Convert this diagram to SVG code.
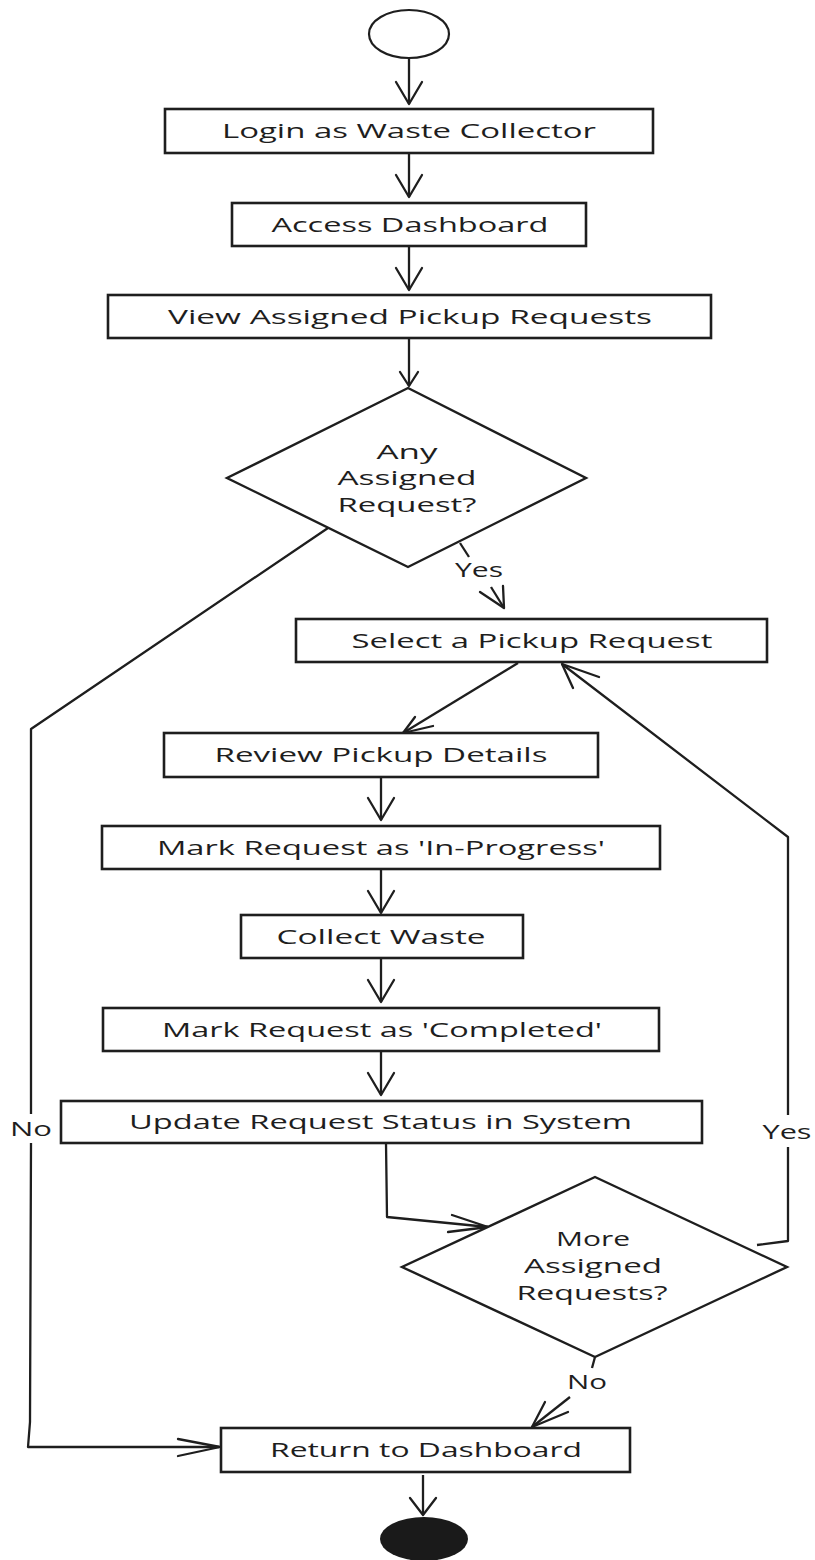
<svg xmlns="http://www.w3.org/2000/svg" width="815" height="1560" viewBox="0 0 815 1560">
  <style>
    .box { fill: #ffffff; stroke: #1e1e1e; stroke-width: 2.6; }
    .dia { fill: #ffffff; stroke: #1e1e1e; stroke-width: 2.4; stroke-linejoin: miter; }
    .line { fill: none; stroke: #1e1e1e; stroke-width: 2.3; stroke-linejoin: round; }
    .head { fill: none; stroke: #1e1e1e; stroke-width: 2.3; stroke-linecap: round; stroke-linejoin: round; }
    text { font-family: "Open Sans", "Liberation Sans", sans-serif; font-size: 19.5px; fill: #1e1e1e; text-anchor: middle; }
  </style>
  <rect x="0" y="0" width="815" height="1560" fill="#ffffff"/>

  <!-- connectors -->
  <g id="connectors">
    <!-- start to login -->
    <path class="line" d="M409 58 V104"/>
    <path class="head" d="M396 82 L409 104 L422 82"/>
    <!-- login to dashboard -->
    <path class="line" d="M409 153 V197"/>
    <path class="head" d="M396 175 L409 197 L422 175"/>
    <!-- dashboard to view -->
    <path class="line" d="M409 246 V290"/>
    <path class="head" d="M396 268 L409 290 L422 268"/>
    <!-- view to decision -->
    <path class="line" d="M409 338 V386"/>
    <path class="head" d="M400 372 L409 386 L418 372"/>
    <!-- decision yes -->
    <path class="line" d="M460 543 L469 557"/>
    <path class="line" d="M491 587 L504 608"/>
    <path class="head" d="M480 592 L504 608 L503 586"/>
    <!-- decision no: down the left side -->
    <path class="line" d="M328 528 L31 729 L31 1114"/>
    <path class="line" d="M31 1143 L30 1422 L28 1447 L219 1447"/>
    <path class="head" d="M178 1439 L220 1447 L178 1456"/>
    <!-- select to review -->
    <path class="line" d="M518 663 L403 733"/>
    <path class="head" d="M433 726 L403 733 L415 717"/>
    <!-- review to in-progress -->
    <path class="line" d="M381 777 V820"/>
    <path class="head" d="M368 798 L381 820 L394 798"/>
    <!-- in-progress to collect -->
    <path class="line" d="M381 869 V913"/>
    <path class="head" d="M368 891 L381 913 L394 891"/>
    <!-- collect to completed -->
    <path class="line" d="M381 958 V1002"/>
    <path class="head" d="M368 980 L381 1002 L394 980"/>
    <!-- completed to update -->
    <path class="line" d="M381 1051 V1095"/>
    <path class="head" d="M368 1073 L381 1095 L394 1073"/>
    <!-- update to second decision -->
    <path class="line" d="M386 1143 L387 1217 L488 1227"/>
    <path class="head" d="M452 1215 L488 1227 L448 1232"/>
    <!-- second decision yes: loop back to select -->
    <path class="line" d="M757 1245 L788 1241 L788 1147"/>
    <path class="line" d="M788 1115 L788 837 L562 664"/>
    <path class="head" d="M573 688 L562 664 L599 677"/>
    <!-- second decision no -->
    <path class="line" d="M595 1357 L592 1368"/>
    <path class="line" d="M570 1397 L532 1427"/>
    <path class="head" d="M545 1402 L532 1427 L568 1412"/>
    <!-- return to end -->
    <path class="line" d="M423 1475 V1515"/>
    <path class="head" d="M410 1498 L423 1515 L436 1498"/>

    <!-- branch labels -->
    <text x="479" y="577" textLength="48" lengthAdjust="spacingAndGlyphs">Yes</text>
    <text x="31" y="1136" textLength="42" lengthAdjust="spacingAndGlyphs">No</text>
    <text x="787" y="1139" textLength="49" lengthAdjust="spacingAndGlyphs">Yes</text>
    <text x="587" y="1389" textLength="40" lengthAdjust="spacingAndGlyphs">No</text>
  </g>

  <!-- nodes -->
  <g id="start">
    <ellipse cx="409" cy="34" rx="40" ry="24" fill="#ffffff" stroke="#1e1e1e" stroke-width="2.2"/>
  </g>

  <g id="login">
    <rect class="box" x="165" y="109" width="488" height="44"/>
    <text x="409" y="138" textLength="374" lengthAdjust="spacingAndGlyphs">Login as Waste Collector</text>
  </g>

  <g id="dashboard">
    <rect class="box" x="232" y="203" width="354" height="43"/>
    <text x="410" y="231.5" textLength="277" lengthAdjust="spacingAndGlyphs">Access Dashboard</text>
  </g>

  <g id="view-requests">
    <rect class="box" x="108" y="295" width="603" height="43"/>
    <text x="410" y="323.5" textLength="484" lengthAdjust="spacingAndGlyphs">View Assigned Pickup Requests</text>
  </g>

  <g id="any-assigned">
    <polygon class="dia" points="408,388 586,478 408,567 227,478"/>
    <text x="407" y="459" textLength="61" lengthAdjust="spacingAndGlyphs">Any</text>
    <text x="407" y="485" textLength="139" lengthAdjust="spacingAndGlyphs">Assigned</text>
    <text x="407" y="512" textLength="139" lengthAdjust="spacingAndGlyphs">Request?</text>
  </g>

  <g id="select-request">
    <rect class="box" x="296" y="619" width="471" height="43"/>
    <text x="532" y="647.5" textLength="361" lengthAdjust="spacingAndGlyphs">Select a Pickup Request</text>
  </g>

  <g id="review-details">
    <rect class="box" x="164" y="733" width="434" height="44"/>
    <text x="381" y="762" textLength="333" lengthAdjust="spacingAndGlyphs">Review Pickup Details</text>
  </g>

  <g id="mark-in-progress">
    <rect class="box" x="102" y="826" width="558" height="43"/>
    <text x="381" y="854.5" textLength="448" lengthAdjust="spacingAndGlyphs">Mark Request as 'In-Progress'</text>
  </g>

  <g id="collect-waste">
    <rect class="box" x="241" y="915" width="282" height="43"/>
    <text x="381" y="943.5" textLength="209" lengthAdjust="spacingAndGlyphs">Collect Waste</text>
  </g>

  <g id="mark-completed">
    <rect class="box" x="103" y="1008" width="556" height="43"/>
    <text x="382" y="1036.5" textLength="440" lengthAdjust="spacingAndGlyphs">Mark Request as 'Completed'</text>
  </g>

  <g id="update-status">
    <rect class="box" x="61" y="1101" width="641" height="42"/>
    <text x="380.5" y="1129" textLength="503" lengthAdjust="spacingAndGlyphs">Update Request Status in System</text>
  </g>

  <g id="more-assigned">
    <polygon class="dia" points="595,1177 787,1267 595,1357 402,1267"/>
    <text x="593" y="1246" textLength="74" lengthAdjust="spacingAndGlyphs">More</text>
    <text x="593" y="1273" textLength="138" lengthAdjust="spacingAndGlyphs">Assigned</text>
    <text x="592" y="1300" textLength="151" lengthAdjust="spacingAndGlyphs">Requests?</text>
  </g>

  <g id="return-dashboard">
    <rect class="box" x="221" y="1428" width="409" height="44"/>
    <text x="426" y="1457" textLength="312" lengthAdjust="spacingAndGlyphs">Return to Dashboard</text>
  </g>

  <g id="end">
    <ellipse cx="424" cy="1539" rx="44" ry="22" fill="#1a1a1a"/>
  </g>
</svg>
